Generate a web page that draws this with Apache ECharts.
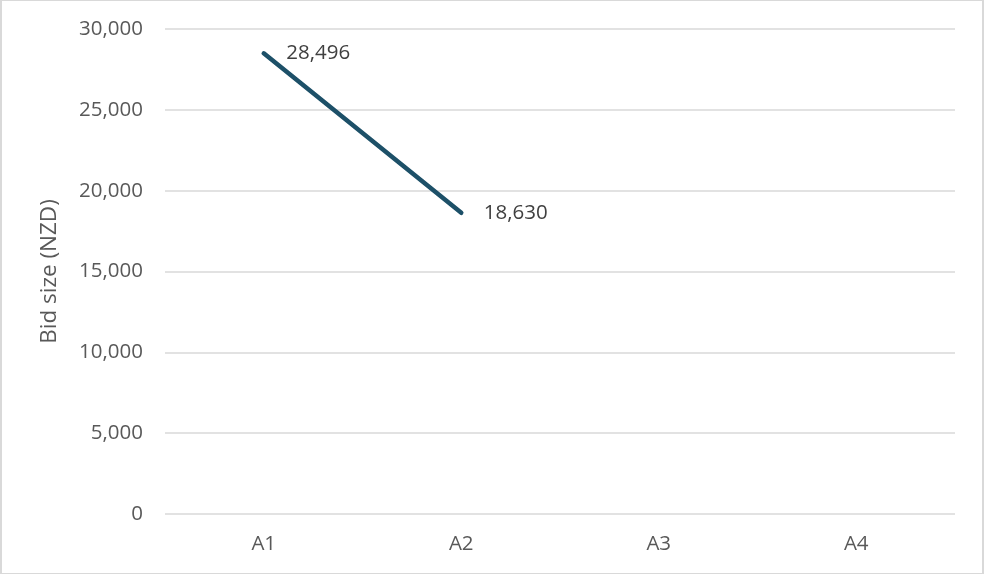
<!DOCTYPE html>
<html>
<head>
<meta charset="utf-8">
<script src="https://cdn.jsdelivr.net/npm/echarts@6/dist/echarts.min.js"></script>
<style>
  html, body { margin: 0; padding: 0; background: #fff; }
  #chart { width: 984px; height: 574px; box-sizing: border-box; border: 1px solid #d9d9d9; border-left-width: 2px; border-right-width: 2px; }
</style>
</head>
<body>
<div id="chart"></div>
<script>
// Bid rounds and the bid size recorded for each
const categories = ['A1', 'A2', 'A3', 'A4'];
const bidSize = [28496, 18630, null, null];
const yTicks = [0, 5000, 10000, 15000, 20000, 25000, 30000];

const fontFamily = '"Open Sans", "Noto Sans", sans-serif';
const fmt = v => v.toLocaleString('en-US');

const chart = echarts.init(document.getElementById('chart'));
chart.setOption({
  animation: false,
  grid: { left: 163, right: 27, top: 28, bottom: 59 },
  xAxis: {
    type: 'category',
    data: categories,
    boundaryGap: true,
    axisLine: { show: false },
    axisTick: { show: false },
    axisLabel: { color: '#595959', fontSize: 20.5, fontFamily, margin: 20 }
  },
  yAxis: {
    type: 'value',
    min: yTicks[0],
    max: yTicks[yTicks.length - 1],
    interval: yTicks[1] - yTicks[0],
    name: 'Bid size (NZD)',
    nameLocation: 'middle',
    nameGap: 104,
    nameRotate: 90,
    nameTextStyle: { color: '#595959', fontSize: 22.5, fontFamily },
    axisLine: { show: false },
    axisTick: { show: false },
    axisLabel: { color: '#595959', fontSize: 20.5, fontFamily, margin: 22, formatter: fmt },
    splitLine: { lineStyle: { color: '#d9d9d9', width: 1.5 } }
  },
  series: [{
    type: 'line',
    data: bidSize,
    connectNulls: false,
    showSymbol: true,
    symbol: 'circle',
    symbolSize: 1,
    itemStyle: { color: '#1d5068' },
    lineStyle: { color: '#1d5068', width: 4.5, cap: 'round' },
    label: {
      show: true,
      position: 'right',
      distance: 22,
      color: '#404040',
      fontSize: 20.5,
      fontFamily,
      formatter: p => p.value == null ? '' : fmt(p.value)
    }
  }]
});
</script>
</body>
</html>
